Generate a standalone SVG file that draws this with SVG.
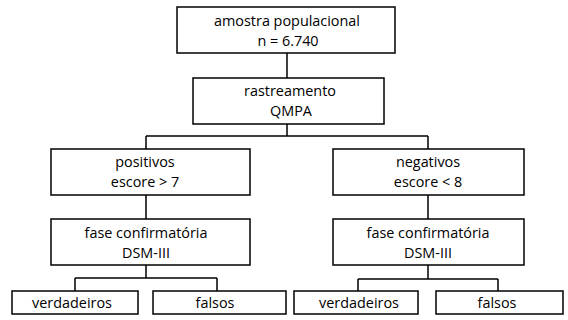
<svg xmlns="http://www.w3.org/2000/svg" width="568" height="320" viewBox="0 0 568 320">
<style>
rect{fill:#fff;stroke:#000;stroke-width:1.5}
.c path{fill:none;stroke:#000;stroke-width:1.5}
text{font-family:"Open Sans","DejaVu Sans",sans-serif;font-size:14.4px;fill:#000;text-anchor:middle}
</style>
<rect x="0" y="0" width="568" height="320" style="stroke:none"/>
<g class="c">
<path d="M287 53V78"/>
<path d="M287 124V136M146 136H428M146 136V149M428 136V149"/>
<path d="M146 195V219M428 195V219"/>
<path d="M146 265V278M75 278H217M75 278V291M217 278V291"/>
<path d="M428 265V279M358 279H498M358 279V291M498 279V291"/>
</g>
<g id="amostra"><rect x="177" y="7" width="218" height="46"/><text x="287" y="26">amostra populacional</text><text x="288" y="46">n = 6.740</text></g>
<g id="rastreamento"><rect x="193" y="78" width="191" height="46"/><text x="290" y="96">rastreamento</text><text x="291" y="116">QMPA</text></g>
<g id="positivos"><rect x="51" y="149" width="199" height="46"/><text x="145" y="167">positivos</text><text x="145" y="187">escore &gt; 7</text></g>
<g id="negativos"><rect x="333" y="149" width="191" height="46"/><text x="428" y="167">negativos</text><text x="428" y="187">escore &lt; 8</text></g>
<g id="fase1"><rect x="51" y="219" width="199" height="46"/><text x="146" y="238">fase confirmatória</text><text x="146" y="258">DSM-III</text></g>
<g id="fase2"><rect x="333" y="219" width="191" height="46"/><text x="428" y="238">fase confirmatória</text><text x="428" y="258">DSM-III</text></g>
<g id="verd1"><rect x="12" y="291" width="126" height="23"/><text x="72" y="308">verdadeiros</text></g>
<g id="fals1"><rect x="153" y="291" width="133" height="23"/><text x="215" y="308">falsos</text></g>
<g id="verd2"><rect x="294" y="291" width="124" height="23"/><text x="359" y="308">verdadeiros</text></g>
<g id="fals2"><rect x="436" y="291" width="127" height="23"/><text x="497" y="308">falsos</text></g>
</svg>
